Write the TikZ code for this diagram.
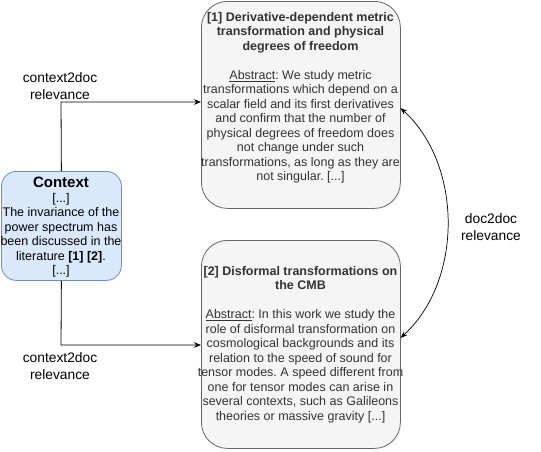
\documentclass[tikz,border=0pt]{standalone}
\usepackage{fontspec}
\setmainfont{Liberation Sans}
\usetikzlibrary{arrows.meta,calc}
\definecolor{ctxfill}{HTML}{DAE8FC}
\definecolor{ctxdraw}{HTML}{6C8EBF}
\definecolor{docfill}{HTML}{F5F5F5}
\definecolor{docdraw}{HTML}{666666}
\definecolor{doctext}{HTML}{333333}
\frenchspacing
\begin{document}
\begin{tikzpicture}[x=1pt,y=-1pt,
  txt/.style={font=\fontsize{12.5}{14.5}\selectfont,align=center,inner sep=0pt},
  doctxt/.style={txt,text=doctext},
  lbl/.style={font=\fontsize{13.8}{16.5}\selectfont,align=center,inner sep=0pt},
  ctxbox/.style={draw=ctxdraw,fill=ctxfill,rounded corners=15pt,line width=0.8pt},
  docbox/.style={draw=docdraw,fill=docfill,rounded corners=26pt,line width=0.8pt},
  conn/.style={line width=0.8pt,-{Stealth[length=7pt,width=5.5pt]}},
  dconn/.style={line width=0.7pt,{Stealth[length=7pt,width=5pt]}-{Stealth[length=7pt,width=5pt]}}]
\useasboundingbox (0,0) rectangle (541,451);
% boxes
\node[ctxbox,minimum width=120pt,minimum height=109pt,anchor=north west] (ctx) at (1,171) {};
\node[docbox,minimum width=199pt,minimum height=207pt,anchor=north west] (d1) at (201,1) {};
\node[docbox,minimum width=199pt,minimum height=208pt,anchor=north west] (d2) at (201,240) {};
% context text
\node[txt,anchor=base] (ctxt) at (61,187) {\fontsize{15}{17}\selectfont\bfseries Context};
\node[txt,anchor=north] (ctxb) at (61,193) {{[...]}\\The invariance of the\\power spectrum has\\been discussed in the\\literature \textbf{[1] [2]}.\\{[...]}};
% doc1 text
\node[doctxt,anchor=north] (d1t) at (300.5,12) {\textbf{[1] Derivative-dependent metric}\\\textbf{transformation and physical}\\\textbf{degrees of freedom}\\[14.5pt]\underline{Abstract}: We study metric\\transformations which depend on a\\scalar field and its first derivatives\\and confirm that the number of\\physical degrees of freedom does\\not change under such\\transformations, as long as they are\\not singular. [...]};
% doc2 text
\node[doctxt,anchor=north] (d2t) at (300.5,266) {\textbf{[2] Disformal transformations on}\\\textbf{the CMB}\\[14.5pt]\underline{Abstract}: In this work we study the\\role of disformal transformation on\\cosmological backgrounds and its\\relation to the speed of sound for\\tensor modes. A speed different from\\one for tensor modes can arise in\\several contexts, such as Galileons\\theories or massive gravity [...]};
% labels
\node[lbl] (l1) at (60,86) {context2doc\\relevance};
\node[lbl] (l2) at (60,366) {context2doc\\relevance};
\node[lbl] (l3) at (491,227) {doc2doc\\relevance};
% connectors
\coordinate (p1) at (61,102);
\coordinate (p2) at (61,345);
\draw[conn] (ctx.north) -- (p1) -- (d1.west |- p1);
\draw[conn] (ctx.south) -- (p2) -- (d2.west |- p2);
\coordinate (a1) at (400.5,108);
\coordinate (a2) at (400.5,338);
\draw[dconn] (a1) .. controls (463,165) and (463,281) .. (a2);
\end{tikzpicture}
\end{document}
